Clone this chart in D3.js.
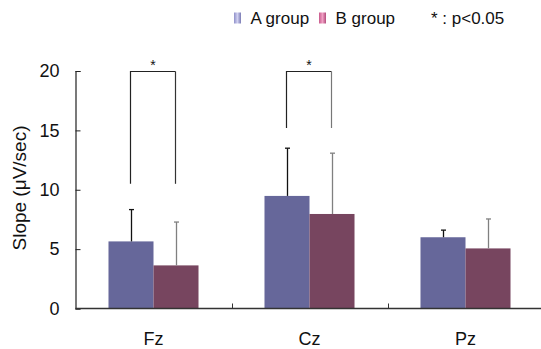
<!DOCTYPE html>
<html>
<head>
<meta charset="utf-8">
<script src="https://cdnjs.cloudflare.com/ajax/libs/d3/7.8.5/d3.min.js"></script>
<style>
    body { margin: 0; background: #fff; }
    svg { display: block; font-family: "Liberation Sans", Arial, sans-serif; }
</style>
</head>
<body>
<div class="content"></div>
<script>
var categories = ["Fz", "Cz", "Pz"];
var groups = ["A group", "B group"];
var groupA = [5.65, 9.48, 6.0];
var groupB = [3.63, 7.96, 5.06];
var errA = [2.68, 4.02, 0.6];
var errB = [3.65, 5.12, 2.48];
var yTicks = [0, 5, 10, 15, 20];
// significance brackets: category, low end of legs
var sigCats = ["Fz", "Cz"];
var sigLow = [10.5, 15.2];
var sigTop = 20;

(function (window) {
    'use strict';
    var width = 541, height = 349,
        opts = {
            left: 75.5, right: 543.5, top: 71, bottom: 308.5,
            colors: ["#66679a", "#77455f"],
            errColors: ["#111", "#808080"],
            swatch: [["#8f90c9", "#d0d0f0", "#7a7bb4"], ["#c85a8c", "#f0a0c4", "#b24c7c"]]
        },
        svg, x, x1, y, defs;

    svg = d3.select(".content").append("svg")
        .attr("width", width)
        .attr("height", height);

    x = d3.scaleBand().domain(categories).range([opts.left, opts.right]).padding(0);
    x1 = d3.scaleBand().domain(groups).range([0, x.bandwidth()]).paddingInner(0).paddingOuter(0.733);
    y = d3.scaleLinear().domain([0, 20]).range([opts.bottom, opts.top]);

    function barData(vals, errs, g) {
        return categories.map(function (c, i) {
            return {cat: c, g: g, v: vals[i], e: errs[i]};
        });
    }

    var series = [barData(groupA, errA, groups[0]), barData(groupB, errB, groups[1])];

    // bars
    series.forEach(function (s, si) {
        svg.append("g").selectAll("rect").data(s).enter().append("rect")
            .attr("x", function (d) { return x(d.cat) + x1(d.g); })
            .attr("y", function (d) { return y(d.v); })
            .attr("width", x1.bandwidth())
            .attr("height", function (d) { return y(0) - y(d.v); })
            .attr("fill", opts.colors[si]);
    });

    // error bars (upper only)
    series.forEach(function (s, si) {
        var g = svg.append("g").attr("stroke", opts.errColors[si]).attr("stroke-width", 1.3);
        s.forEach(function (d) {
            var cx = Math.round(x(d.cat) + x1(d.g) + x1.bandwidth() / 2) + 0.5;
            g.append("line").attr("x1", cx).attr("x2", cx)
                .attr("y1", y(d.v)).attr("y2", y(d.v + d.e));
            g.append("line").attr("x1", cx - 2.5).attr("x2", cx + 2.5)
                .attr("y1", y(d.v + d.e)).attr("y2", y(d.v + d.e));
        });
    });

    // significance brackets
    sigCats.forEach(function (c, i) {
        var xa = Math.round(x(c) + x1(groups[0]) + x1.bandwidth() / 2) - 0.5,
            xb = Math.round(x(c) + x1(groups[1]) + x1.bandwidth() / 2) - 0.5,
            g = svg.append("g").attr("fill", "none").attr("stroke-width", 1.2);
        g.append("path")
            .attr("d", "M" + xa + "," + y(sigLow[i]) + "V" + (y(sigTop) + 0.5) + "H" + xb)
            .attr("stroke", "#222");
        g.append("line").attr("x1", xb).attr("x2", xb)
            .attr("y1", y(sigTop) + 0.5).attr("y2", y(sigLow[i]))
            .attr("stroke", i === 0 ? "#333" : "#777");
        svg.append("text")
            .attr("x", (xa + xb) / 2)
            .attr("y", y(sigTop) - 1)
            .attr("text-anchor", "middle")
            .attr("font-size", "14px")
            .attr("fill", "#111")
            .text("*");
    });

    // y axis
    var yAxis = svg.append("g")
        .attr("transform", "translate(" + opts.left + ",0)")
        .call(d3.axisLeft(y).tickValues(yTicks).tickSize(-5).tickPadding(16));
    yAxis.select(".domain").attr("stroke", "#222").attr("stroke-width", 1.2);
    yAxis.selectAll(".tick line").attr("stroke", "#222");
    yAxis.selectAll("text").attr("font-size", "18px").attr("fill", "#111")
        .attr("font-family", "Liberation Sans, Arial, sans-serif");

    // x axis
    svg.append("line")
        .attr("x1", opts.left).attr("x2", width)
        .attr("y1", opts.bottom).attr("y2", opts.bottom)
        .attr("stroke", "#333").attr("stroke-width", 1.3);
    svg.append("g").selectAll("line").data(categories.slice(0, -1)).enter().append("line")
        .attr("x1", function (d) { return Math.round(x(d) + x.bandwidth()) + 0.5; })
        .attr("x2", function (d) { return Math.round(x(d) + x.bandwidth()) + 0.5; })
        .attr("y1", opts.bottom - 5).attr("y2", opts.bottom)
        .attr("stroke", "#333");
    svg.append("g").selectAll("text").data(categories).enter().append("text")
        .attr("x", function (d) { return x(d) + x.bandwidth() / 2; })
        .attr("y", 345)
        .attr("text-anchor", "middle")
        .attr("font-size", "18px")
        .attr("fill", "#111")
        .text(function (d) { return d; });

    // y label
    svg.append("text")
        .attr("transform", "translate(26,188) rotate(-90)")
        .attr("text-anchor", "middle")
        .attr("font-size", "19px")
        .attr("fill", "#111")
        .text("Slope (\u03bcV/sec)");

    // legend
    defs = svg.append("defs");
    opts.swatch.forEach(function (cs, i) {
        var grad = defs.append("linearGradient").attr("id", "sw" + i);
        grad.append("stop").attr("offset", "0%").attr("stop-color", cs[0]);
        grad.append("stop").attr("offset", "50%").attr("stop-color", cs[1]);
        grad.append("stop").attr("offset", "100%").attr("stop-color", cs[2]);
    });
    var legX = [234, 319];
    groups.forEach(function (gname, i) {
        svg.append("rect")
            .attr("x", legX[i]).attr("y", 12.5)
            .attr("width", 7).attr("height", 11)
            .attr("fill", "url(#sw" + i + ")");
        svg.append("text")
            .attr("x", legX[i] + 16.5).attr("y", 24)
            .attr("font-size", "17px")
            .attr("fill", "#111")
            .text(gname);
    });
    svg.append("text")
        .attr("x", 431).attr("y", 24)
        .attr("font-size", "17px")
        .attr("fill", "#111")
        .text("* : p<0.05");
}(window));
</script>
</body>
</html>
